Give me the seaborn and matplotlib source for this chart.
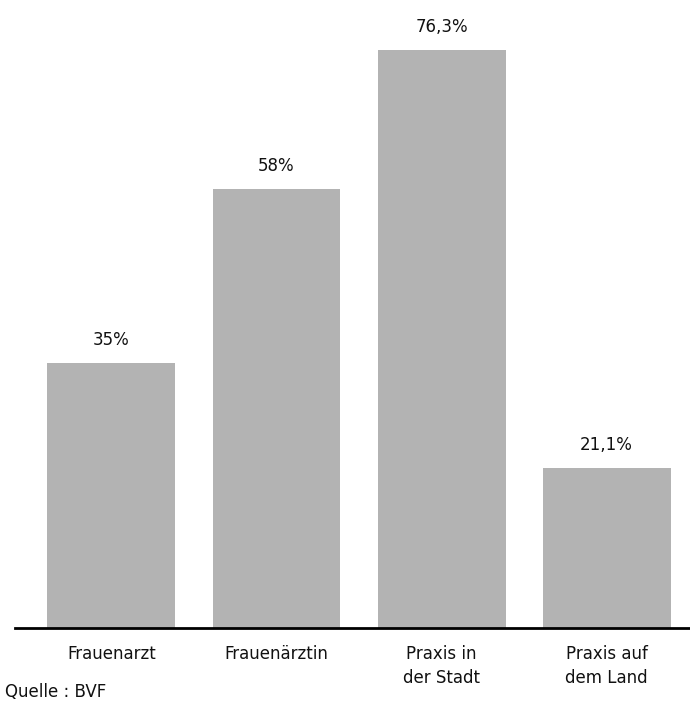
import matplotlib
matplotlib.use("Agg")
import matplotlib.pyplot as plt
import seaborn as sns
import pandas as pd

categories = ["Frauenarzt", "Frauenärztin", "Praxis in\nder Stadt", "Praxis auf\ndem Land"]
values = [35.0, 58.0, 76.3, 21.1]
value_labels = ["35%", "58%", "76,3%", "21,1%"]

sns.set_style("white")
plt.rcParams['font.family'] = ['DejaVu Sans']

df = pd.DataFrame({"cat": categories, "val": values})

fig = plt.figure(figsize=(6.9, 7.02), dpi=100)
ax = fig.add_axes([15 / 690, 1 - 628 / 702, 1 - 15 / 690, 608 / 702])
sns.barplot(data=df, x="cat", y="val", color="#b3b3b3", saturation=1,
            width=0.775, linewidth=0, ax=ax)

for i, (v, lab) in enumerate(zip(values, value_labels)):
    ax.annotate(lab, (i, v), xytext=(0, 10), textcoords="offset points",
                ha="center", va="bottom", fontsize=12, color="#111111")

ax.set_xlim(-0.584, 3.505)
ax.set_ylim(0, 80.26)
ax.set_xlabel("")
ax.set_ylabel("")
ax.set_yticks([])
for s in ["top", "right", "left"]:
    ax.spines[s].set_visible(False)
ax.spines["bottom"].set_linewidth(2)
ax.spines["bottom"].set_color("black")
ax.tick_params(axis="x", length=0, pad=12, labelsize=12, labelcolor="#111111")
for t in ax.get_xticklabels():
    t.set_linespacing(1.45)

fig.text(5 / 690, 1 - 692 / 702, "Quelle : BVF", fontsize=12, color="#111111",
         ha="left", va="center")

fig.savefig("out.png", dpi=100)
